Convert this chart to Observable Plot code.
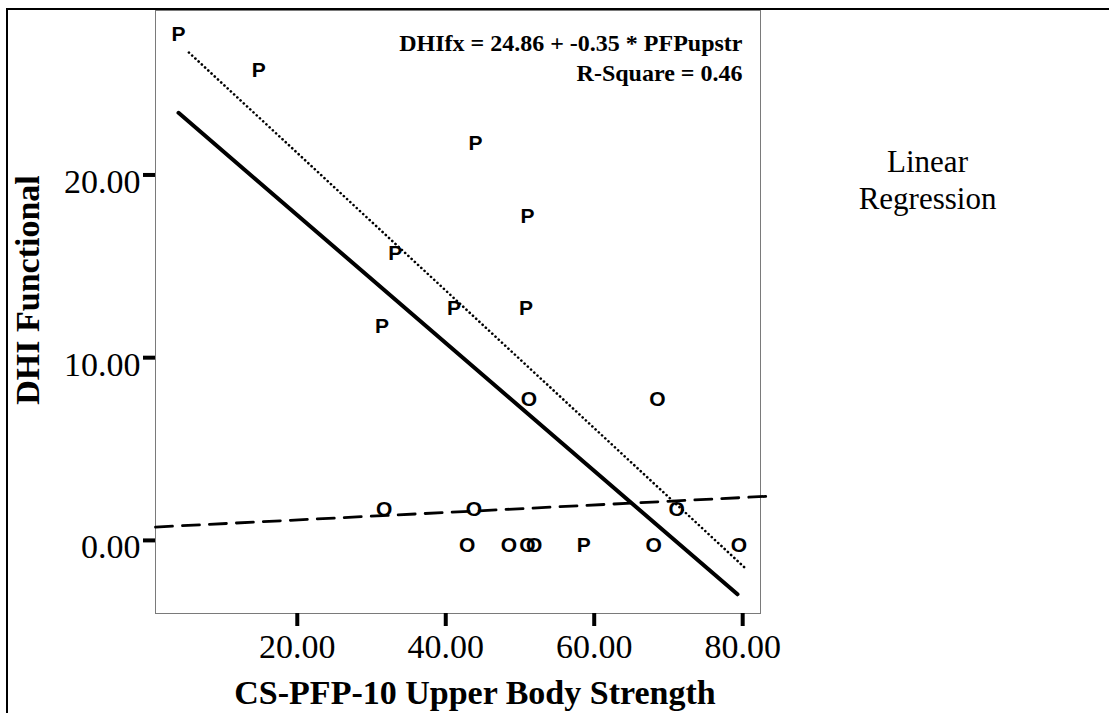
<!DOCTYPE html>
<html><head><meta charset="utf-8">
<script src="https://cdn.jsdelivr.net/npm/d3@7"></script>
<script src="https://cdn.jsdelivr.net/npm/@observablehq/plot@0.6"></script>
<style>
html,body{margin:0;padding:0;background:#fff;}
#wrap{position:relative;width:1109px;height:713px;overflow:hidden;}
#chart{position:absolute;left:0;top:0;}
#border{position:absolute;left:6px;top:8px;width:1200px;height:800px;border-left:2px solid #000;border-top:2px solid #000;pointer-events:none;}
</style></head><body>
<div id="wrap"><div id="chart"></div><div id="border"></div></div>
<script>
// Scatter points (group letter, strength, DHI functional)
const pointLabels = ["P","P","P","P","P","P","P","P","P","O","O","O","O","O","O","O","O","O","O","O"];
const pointX = [4.0, 14.8, 44.0, 51.0, 33.2, 41.1, 50.8, 31.4, 58.6, 51.2, 68.5, 31.7, 43.8, 71.1, 42.9, 48.5, 51.0, 51.9, 68.0, 79.5];
const pointY = [28, 26, 22, 18, 16, 13, 13, 12, 0, 8, 8, 2, 2, 2, 0, 0, 0, 0, 0, 0];

// Fit line end points
const fitGroups = ["Total","Total","P","P","O","O"];
const fitX = [4.0, 79.3, 5.4, 80.2, 0.9, 83.1];
const fitY = [23.4, -2.95, 26.7, -1.46, 0.73, 2.41];

const xTicks = [20, 40, 60, 80];
const yTicks = [0, 10, 20];
const xTitle = ["CS-PFP-10 Upper Body Strength"];
const yTitle = ["DHI Functional"];
const eqLines = ["DHIfx = 24.86 + -0.35 * PFPupstr", "R-Square = 0.46"];
const legendLines = ["Linear", "Regression"];

const points = pointLabels.map((g, i) => ({g, x: pointX[i], y: pointY[i]}));
const fits = fitGroups.map((g, i) => ({g, x: fitX[i], y: fitY[i]}));
const fmt = d3.format(".2f");

const chart = Plot.plot({
  width: 1109,
  height: 713,
  marginLeft: 155,
  marginRight: 349,
  marginTop: 10,
  marginBottom: 100,
  style: {fontFamily: "'Liberation Serif', 'Times New Roman', serif", fontSize: "34px", background: "transparent", color: "#000"},
  x: {domain: [0.9, 82.4], label: null},
  y: {domain: [-4, 29], label: null},
  marks: [
    Plot.frame({stroke: "#7a7a7a", strokeWidth: 1}),
    Plot.axisX({ticks: xTicks, tickSize: 13, tickPadding: 7, strokeWidth: 4, tickFormat: fmt, fontSize: 34, label: null}),
    Plot.axisY({ticks: yTicks, tickSize: 12, strokeWidth: 4, tickFormat: () => "", label: null}),
    Plot.text(yTicks, {y: d => d, frameAnchor: "left", textAnchor: "end", dx: -15, dy: 7, text: d => fmt(d), fontSize: 34}),
    Plot.line(fits.filter(d => d.g === "Total"), {x: "x", y: "y", stroke: "#000", strokeWidth: 4}),
    Plot.line(fits.filter(d => d.g === "P"), {x: "x", y: "y", stroke: "#000", strokeWidth: 2.6, strokeLinecap: "round", strokeDasharray: "0.1,4.3"}),
    Plot.line(fits.filter(d => d.g === "O"), {x: "x", y: "y", stroke: "#000", strokeWidth: 2.8, strokeDasharray: "17,10"}),
    Plot.text(points, {x: "x", y: "y", text: "g", dy: 5, fontFamily: "'Liberation Sans', Arial, sans-serif", fontWeight: "bold", fontSize: 21, fill: "#000"}),
    Plot.text([eqLines.join("\n")], {frameAnchor: "top-right", textAnchor: "end", lineAnchor: "top", dx: -18, dy: 20, fontWeight: "bold", fontSize: 24, lineHeight: 1.22}),
    Plot.text([legendLines.join("\n")], {frameAnchor: "top-right", textAnchor: "middle", lineAnchor: "top", dx: 167, dy: 135, fontSize: 31, lineHeight: 1.19}),
    Plot.text(xTitle, {frameAnchor: "bottom", textAnchor: "middle", dx: 17, dy: 90, fontWeight: "bold", fontSize: 34}),
    Plot.text(yTitle, {frameAnchor: "left", textAnchor: "middle", rotate: -90, dx: -127, dy: -22, fontWeight: "bold", fontSize: 34})
  ]
});
document.getElementById("chart").appendChild(chart);
</script>
</body></html>
